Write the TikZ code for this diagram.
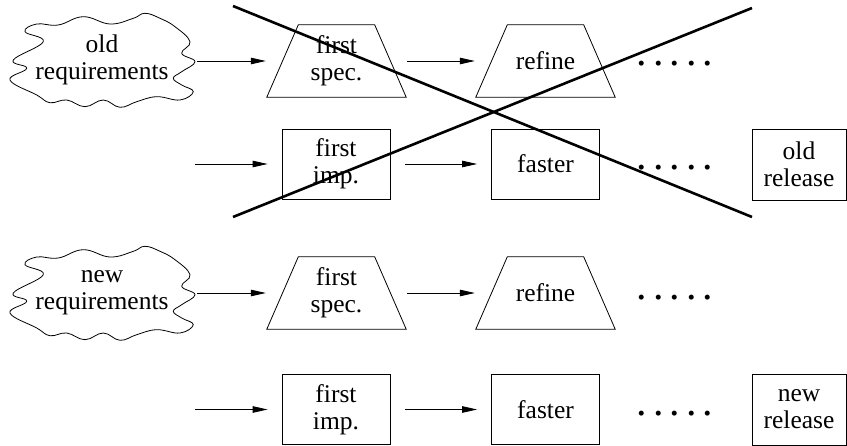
\documentclass[tikz,border=0pt]{standalone}
\usepackage{fontspec}
\setmainfont{Liberation Serif}
\usetikzlibrary{arrows.meta}
\begin{document}
\begin{tikzpicture}[x=1pt,y=-1pt,
  every node/.style={font=\fontsize{25.5}{27}\selectfont, align=center, inner sep=0pt},
  % frame of a trapezoid; its outline is drawn from the anchors
  specbox/.style={rectangle, minimum width=139pt, minimum height=72pt},
  impbox/.style={draw, line width=0.8pt, rectangle, minimum width=108pt, minimum height=70pt},
  relbox/.style={draw, line width=0.8pt, rectangle, minimum width=94pt, minimum height=71pt},
  flow/.style={line width=0.8pt, -{Triangle[length=15pt,width=6.5pt]}},
  strike/.style={line width=2.6pt},
  outline/.style={line width=0.8pt},
  dotrow/.style={font=\fontsize{42}{42}\selectfont, anchor=base},
  reqcloud/.pic={
    \draw[outline] plot[smooth cycle, tension=0.7] coordinates {
      (25,31.7) (36.7,24) (58.3,25) (83.3,16.7) (110,24) (133.3,18.3)
      (145,13.3) (160,18.3) (175,26.7) (190,41.7) (181.7,53.3) (195,61.7)
      (181.7,71.7) (173.3,78.3) (181.7,85) (193.3,91.7) (180,100)
      (156.7,96.7) (136.7,101.7) (120,107.3) (103.3,100) (85,106.7)
      (66.7,100) (50,102.7) (36.7,95) (10,80) (26.7,68.3) (13.3,60)
      (43.3,41.7)};
  }
]
\useasboundingbox (0,0) rectangle (847,446);
\newcommand\dotsrow{.\hskip6pt.\hskip6pt.\hskip6pt.\hskip6pt.}
\newcommand\trapez[1]{%
  \draw[outline] (#1.south west) -- (#1.south east)
    -- ([xshift=-31.5pt]#1.north east) -- ([xshift=31.5pt]#1.north west) -- cycle;}

% old development line
\pic at (0,0) {reqcloud};
\node (oldreq) at (102,60) {old\\requirements};
\coordinate (oldreq-out) at (197,61);
\node[specbox] (spec1) at (336.5,61) {first\\spec.};
\node[specbox] (refine1) at (545.5,61) {refine};
\trapez{spec1}
\trapez{refine1}
\node[dotrow] (dots1) at (675,66) {\dotsrow};

\coordinate (imp1-in) at (195,164);
\node[impbox] (imp1) at (336,164) {first\\imp.};
\node[impbox] (faster1) at (545.5,164) {faster};
\node[dotrow] (dots2) at (675,169.5) {\dotsrow};
\node[relbox] (oldrel) at (799,164.5) {old\\release};

\draw[flow, shorten >=1pt] (oldreq-out) -- (spec1.west);
\draw[flow, shorten <=1pt, shorten >=1pt] (spec1.east) -- (refine1.west);
\draw[flow, shorten >=14pt] (imp1-in) -- (imp1.west);
\draw[flow, shorten <=15pt, shorten >=14pt] (imp1.east) -- (faster1.west);

% the old line is crossed out
\coordinate (xa1) at (233,6);
\coordinate (xa2) at (752,217);
\coordinate (xb1) at (233,217);
\coordinate (xb2) at (752,8);
\draw[strike] (xa1) -- (xa2);
\draw[strike] (xb1) -- (xb2);

% new development line
\pic at (0,233) {reqcloud};
\node (newreq) at (102,293) {new\\requirements};
\coordinate (newreq-out) at (197,293);
\node[specbox] (spec2) at (336.5,293) {first\\spec.};
\node[specbox] (refine2) at (545.5,293) {refine};
\trapez{spec2}
\trapez{refine2}
\node[dotrow] (dots3) at (675,299.5) {\dotsrow};

\coordinate (imp2-in) at (195,409.5);
\node[impbox] (imp2) at (336,409.5) {first\\imp.};
\node[impbox] (faster2) at (545.5,409.5) {faster};
\node[dotrow] (dots4) at (675,416) {\dotsrow};
\node[relbox] (newrel) at (799,409.5) {new\\release};

\draw[flow, shorten >=1pt] (newreq-out) -- (spec2.west);
\draw[flow, shorten <=1pt, shorten >=1pt] (spec2.east) -- (refine2.west);
\draw[flow, shorten >=14pt] (imp2-in) -- (imp2.west);
\draw[flow, shorten <=15pt, shorten >=14pt] (imp2.east) -- (faster2.west);
\end{tikzpicture}
\end{document}
